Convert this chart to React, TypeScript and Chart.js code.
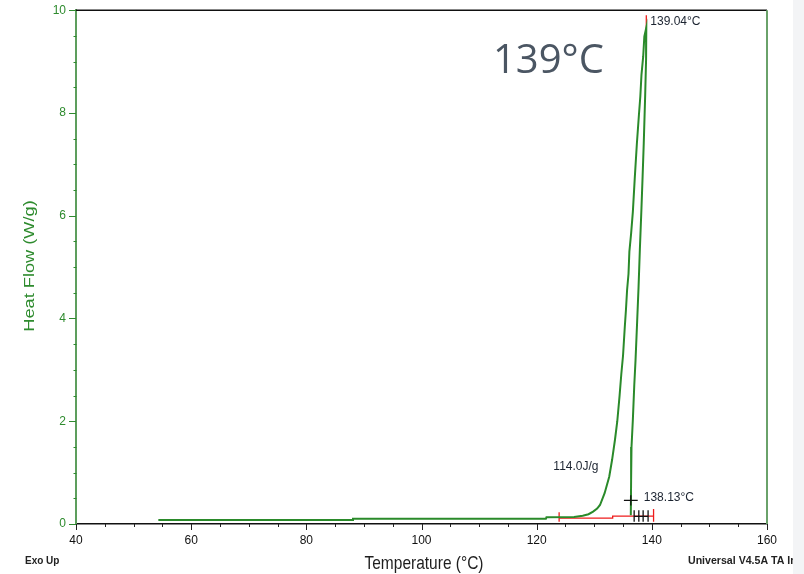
import React, { useEffect, useRef } from "react";
import { Chart, registerables } from "chart.js";

Chart.register(...registerables);

// ---- data ----
const curveT = [
  54.3, 88.0, 88.1, 121.6, 121.7, 126.5, 128.0, 129.0, 129.8, 130.5, 131.0, 131.8, 132.6,
  133.1, 133.6, 134.0, 134.4, 134.7, 135.0, 135.3, 135.5, 135.7, 135.95, 136.1, 136.4,
  136.7, 137.05, 137.4, 137.75, 138.0, 138.2, 138.5, 138.7, 138.96, 139.04,
  139.0, 138.84, 138.6, 138.4, 138.2, 137.92, 137.69, 137.45, 137.17, 136.95, 136.7,
  136.47, 136.4, 136.35,
];
const curveHF = [
  0.078, 0.078, 0.1, 0.1, 0.13, 0.135, 0.16, 0.19, 0.24, 0.3, 0.37, 0.6, 0.92,
  1.25, 1.64, 2.0, 2.5, 2.92, 3.28, 3.83, 4.16, 4.55, 4.87, 5.3, 5.65,
  6.07, 6.76, 7.4, 7.95, 8.32, 8.74, 9.1, 9.49, 9.62, 9.66,
  9.04, 8.33, 7.42, 6.77, 6.15, 5.34, 4.6, 3.94, 3.19, 2.7, 2.02,
  1.5, 0.85, 0.17,
];

const redBaseT = [123.9, 133.2, 133.2, 140.3];
const redBaseHF = [0.115, 0.115, 0.155, 0.155];
const redTickT = [123.9, 140.3, 139.04];
const redTickLow = [0.045, 0.045, 9.65];
const redTickHigh = [0.23, 0.29, 9.9];

const blackTickT = [136.93, 137.74, 138.49, 139.35];
const blackTickLow = 0.045;
const blackTickHigh = 0.27;
const blackLineHF = 0.15;
const crossT = 136.35;
const crossHF = 0.46;
const crossHalfT = 1.2;
const crossHalfHF = 0.1;

const xMajor = [40, 60, 80, 100, 120, 140, 160];
const yMajor = [0, 2, 4, 6, 8, 10];

const peakLabel = "139.04°C";
const onsetLabel = "138.13°C";
const enthalpyLabel = "114.0J/g";
const bigLabel = "139°C";

function pts(xs: number[], ys: number[]) {
  return xs.map((x, i) => ({ x, y: ys[i] }));
}
function segs(list: [number, number, number, number][]) {
  const out: any[] = [];
  list.forEach(([x1, y1, x2, y2]) => {
    out.push({ x: x1, y: y1 }, { x: x2, y: y2 }, { x: x2, y: null });
  });
  return out;
}

const decor = {
  id: "decor",
  beforeDraw(chart: any) {
    const ctx = chart.ctx;
    ctx.save();
    ctx.fillStyle = "#ffffff";
    ctx.fillRect(0, 0, chart.width, chart.height);
    ctx.fillStyle = "#f3f4f6";
    ctx.fillRect(793, 0, chart.width - 793, chart.height);
    ctx.restore();
  },
  afterDraw(chart: any) {
    const ctx = chart.ctx;
    const a = chart.chartArea;
    const xs = chart.scales.x;
    const ys = chart.scales.y;
    ctx.save();
    // top + right borders
    ctx.strokeStyle = "#111";
    ctx.lineWidth = 1.5;
    ctx.beginPath();
    ctx.moveTo(a.left, a.top);
    ctx.lineTo(a.right, a.top);
    ctx.stroke();
    ctx.strokeStyle = "#6aa26a";
    ctx.lineWidth = 2;
    ctx.beginPath();
    ctx.moveTo(a.right, a.top);
    ctx.lineTo(a.right, a.bottom);
    ctx.stroke();

    // x ticks
    ctx.strokeStyle = "#222";
    ctx.lineWidth = 1;
    for (let v = 40; v <= 160; v += 5) {
      const px = Math.round(xs.getPixelForValue(v)) + 0.5;
      const len = v % 20 === 0 ? 6 : 3;
      ctx.beginPath();
      ctx.moveTo(px, a.bottom);
      ctx.lineTo(px, a.bottom + len);
      ctx.stroke();
    }
    // y ticks
    ctx.strokeStyle = "#2f8a2f";
    for (let i = 0; i <= 20; i++) {
      const v = i * 0.5;
      const py = Math.round(ys.getPixelForValue(v)) + 0.5;
      const major = i % 4 === 0;
      ctx.beginPath();
      ctx.moveTo(a.left - (major ? 7 : 2.5), py);
      ctx.lineTo(a.left + (major ? 0 : 0.5), py);
      ctx.stroke();
    }

    // annotations
    ctx.fillStyle = "#1b2330";
    ctx.font = '12px "Liberation Sans", Arial, sans-serif';
    ctx.textBaseline = "middle";
    ctx.textAlign = "left";
    ctx.fillText(peakLabel, xs.getPixelForValue(139.04) + 4, ys.getPixelForValue(9.77));
    ctx.fillText(onsetLabel, xs.getPixelForValue(138.6), ys.getPixelForValue(0.52));
    ctx.fillText(enthalpyLabel, xs.getPixelForValue(122.9), ys.getPixelForValue(1.12));

    // big label
    ctx.fillStyle = "#4b5663";
    ctx.font = '40px "Open Sans", sans-serif';
    ctx.textBaseline = "alphabetic";
    ctx.fillText(bigLabel, 493, 73);

    // axis titles (slightly stretched like the source image)
    ctx.fillStyle = "#1e1e1e";
    ctx.textAlign = "center";
    ctx.textBaseline = "middle";
    ctx.save();
    ctx.translate(424, 564);
    ctx.scale(1, 1.15);
    ctx.font = '15.5px "Liberation Sans", Arial, sans-serif';
    ctx.fillText("Temperature (°C)", 0, 0);
    ctx.restore();

    ctx.save();
    ctx.translate(30, 266);
    ctx.rotate(-Math.PI / 2);
    ctx.scale(1.3, 1);
    ctx.fillStyle = "#2e8b2e";
    ctx.font = '14px "Liberation Sans", Arial, sans-serif';
    ctx.fillText("Heat Flow (W/g)", 0, 0);
    ctx.restore();

    ctx.fillStyle = "#222";
    ctx.font = 'bold 10px "Liberation Sans", Arial, sans-serif';
    ctx.textAlign = "left";
    ctx.fillText("Exo Up", 25, 561);
    ctx.font = 'bold 10.6px "Liberation Sans", Arial, sans-serif';
    ctx.save();
    ctx.beginPath();
    ctx.rect(600, 540, 193, 34);
    ctx.clip();
    ctx.fillText("Universal V4.5A TA Instruments", 688, 561);
    ctx.restore();
    ctx.restore();
  },
};

export default function App() {
  const ref = useRef<HTMLCanvasElement | null>(null);
  useEffect(() => {
    if (!ref.current) return;
    const redTicks: [number, number, number, number][] = redTickT.map((t, i) => [
      t, redTickLow[i], t, redTickHigh[i],
    ]);
    const blackSegs: [number, number, number, number][] = [
      ...blackTickT.map((t) => [t, blackTickLow, t, blackTickHigh] as [number, number, number, number]),
      [blackTickT[0], blackLineHF, blackTickT[blackTickT.length - 1], blackLineHF],
      [crossT - crossHalfT, crossHF, crossT + crossHalfT, crossHF],
      [crossT, crossHF - crossHalfHF, crossT, crossHF + crossHalfHF],
    ];
    const chart = new Chart(ref.current, {
      type: "scatter",
      data: {
        datasets: [
          {
            data: pts(redBaseT, redBaseHF),
            showLine: true,
            borderColor: "#ee1c1c",
            borderWidth: 1.3,
            pointRadius: 0,
            order: 2,
          },
          {
            data: segs(redTicks),
            showLine: true,
            spanGaps: false,
            borderColor: "#ee1c1c",
            borderWidth: 1.3,
            pointRadius: 0,
            order: 2,
          },
          {
            data: pts(curveT, curveHF),
            showLine: true,
            borderColor: "#2a8a2a",
            borderWidth: 2,
            pointRadius: 0,
            order: 1,
          },
          {
            data: segs(blackSegs),
            showLine: true,
            spanGaps: false,
            borderColor: "#111",
            borderWidth: 1.3,
            pointRadius: 0,
            order: 0,
          },
        ],
      },
      options: {
        animation: false,
        responsive: false,
        layout: { padding: { left: 0, right: 37, top: 10, bottom: 0 } },
        plugins: { legend: { display: false }, tooltip: { enabled: false } },
        scales: {
          x: {
            type: "linear",
            min: 40,
            max: 160,
            afterFit: (s: any) => {
              s.height = 50;
            },
            afterBuildTicks: (s: any) => {
              s.ticks = xMajor.map((v) => ({ value: v }));
            },
            grid: { display: true, drawOnChartArea: false, drawTicks: true, tickLength: 6, tickColor: "rgba(0,0,0,0)" },
            border: { display: true, color: "#111", width: 1.5 },
            ticks: {
              padding: 3,
              color: "#111",
              font: { size: 12, family: '"Liberation Sans", Arial, sans-serif' },
              maxRotation: 0,
              autoSkip: false,
            },
          },
          y: {
            type: "linear",
            min: 0,
            max: 10,
            afterFit: (s: any) => {
              s.width = 76;
            },
            afterBuildTicks: (s: any) => {
              s.ticks = yMajor.map((v) => ({ value: v }));
            },
            grid: { display: true, drawOnChartArea: false, drawTicks: true, tickLength: 7, tickColor: "rgba(0,0,0,0)" },
            border: { display: true, color: "#5d9e5d", width: 2 },
            ticks: {
              padding: 3,
              color: "#2e8b2e",
              font: { size: 12, family: '"Liberation Sans", Arial, sans-serif' },
              autoSkip: false,
            },
          },
        },
      },
      plugins: [decor],
    });
    return () => chart.destroy();
  }, []);
  return (
    <div style={{ position: "fixed", left: 0, top: 0, width: 804, height: 574, background: "#fff" }}>
      <canvas ref={ref} width={804} height={574} style={{ display: "block", width: 804, height: 574 }} />
    </div>
  );
}
